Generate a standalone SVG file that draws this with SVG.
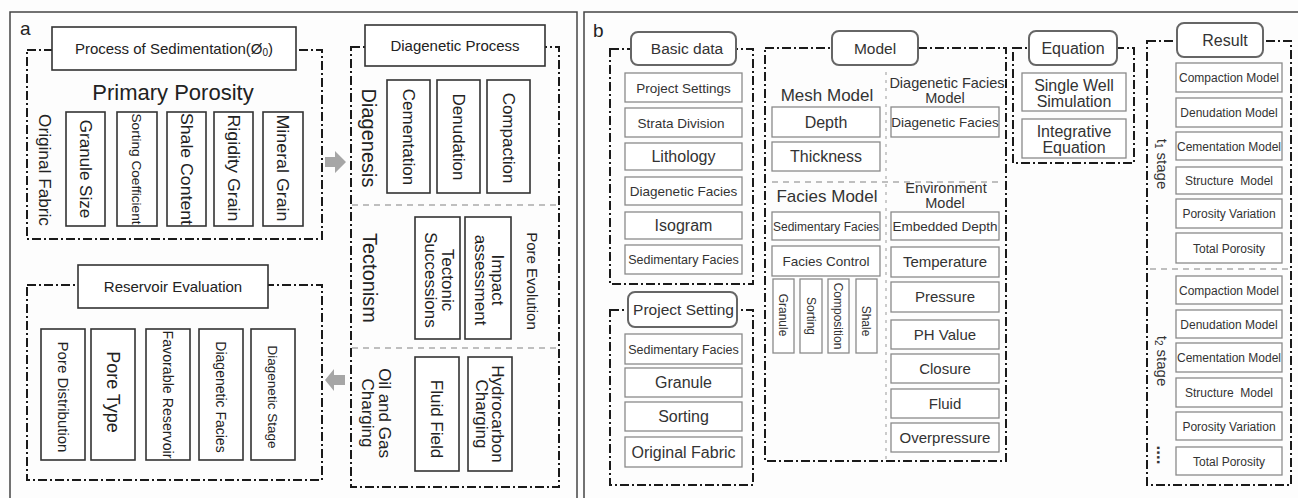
<svg xmlns="http://www.w3.org/2000/svg" width="1298" height="498" viewBox="0 0 1298 498">
  <style>
    text { font-family: "Liberation Sans", Arial, sans-serif; fill: #222; }
    .panel { fill: none; stroke: #444; stroke-width: 1.5; }
    .pa { fill: #fff; stroke: #333; stroke-width: 1.6; }
    .pb { fill: #fff; stroke: #8a8a8a; stroke-width: 1.3; }
    .hd { fill: #fff; stroke: #666; stroke-width: 2; }
    .frame { fill: none; stroke: #1a1a1a; stroke-width: 2; stroke-dasharray: 9 3 2 3; }
    .gdash { fill: none; stroke: #aaa; stroke-width: 1.5; stroke-dasharray: 6 5; }
    .gdot { fill: none; stroke: #bbb; stroke-width: 1.5; stroke-dasharray: 3 5; }
    .arrow { fill: #a6a6a6; }
    .c { text-anchor: middle; }
    .t { fill: #333; }
  </style>

  <rect width="1298" height="498" fill="#fdfdfd"/>

  <!-- outer panels -->
  <g id="panel-a">
    <rect class="panel" x="10" y="12" width="567" height="500"/>
    <text x="20" y="35" font-size="19">a</text>
  </g>
  <g id="panel-b">
    <rect class="panel" x="584" y="12" width="730" height="500"/>
    <text x="593" y="37" font-size="19">b</text>
  </g>

  <!-- ===== panel a ===== -->
  <g id="sedimentation">
    <rect class="frame" x="27" y="50" width="295" height="189"/>
    <rect class="pa" x="52" y="27" width="244" height="43"/>
    <text class="c" x="174" y="54" font-size="15">Process of Sedimentation(Ø<tspan font-size="10" dy="2">0</tspan><tspan dy="-2">)</tspan></text>
    <text class="c" x="173" y="100" font-size="22">Primary Porosity</text>
    <text class="c" transform="translate(45,170) rotate(90)" dy="0.35em" font-size="17" textLength="112" lengthAdjust="spacingAndGlyphs">Original Fabric</text>
    <rect class="pa" x="66" y="112" width="39" height="114"/>
    <text class="c" transform="translate(85.5,169) rotate(90)" dy="0.35em" font-size="17">Granule Size</text>
    <rect class="pa" x="117" y="112" width="40" height="114"/>
    <text class="c" transform="translate(137,169) rotate(90)" dy="0.35em" font-size="13" textLength="111" lengthAdjust="spacingAndGlyphs">Sorting Coefficient</text>
    <rect class="pa" x="167" y="112" width="39" height="114"/>
    <text class="c" transform="translate(186.5,169) rotate(90)" dy="0.35em" font-size="17" textLength="112" lengthAdjust="spacingAndGlyphs">Shale Content</text>
    <rect class="pa" x="214" y="112" width="39" height="114"/>
    <text class="c" transform="translate(233.5,168) rotate(90)" dy="0.35em" font-size="17" textLength="107" lengthAdjust="spacingAndGlyphs">Rigidity Grain</text>
    <rect class="pa" x="263" y="112" width="40" height="114"/>
    <text class="c" transform="translate(283,168) rotate(90)" dy="0.35em" font-size="17" textLength="107" lengthAdjust="spacingAndGlyphs">Mineral Grain</text>
  </g>

  <g id="diagenetic-process">
    <rect class="frame" x="351" y="47" width="208" height="440"/>
    <rect class="pa" x="365" y="25" width="180" height="41"/>
    <text class="c" x="455" y="51" font-size="15">Diagenetic Process</text>
    <line class="gdash" x1="352" y1="205" x2="558" y2="205"/>
    <line class="gdash" x1="352" y1="348" x2="558" y2="348"/>

    <text class="c" transform="translate(369,138) rotate(90)" dy="0.35em" font-size="20">Diagenesis</text>
    <rect class="pa" x="387" y="80" width="43" height="113"/>
    <text class="c" transform="translate(408.5,137) rotate(90)" dy="0.35em" font-size="17">Cementation</text>
    <rect class="pa" x="437" y="80" width="43" height="113"/>
    <text class="c" transform="translate(458.5,137) rotate(90)" dy="0.35em" font-size="17">Denudation</text>
    <rect class="pa" x="487" y="80" width="43" height="113"/>
    <text class="c" transform="translate(508.5,138) rotate(90)" dy="0.35em" font-size="17">Compaction</text>

    <text class="c" transform="translate(370,278) rotate(90)" dy="0.35em" font-size="20">Tectonism</text>
    <rect class="pa" x="415" y="217" width="45" height="122"/>
    <text class="c" transform="translate(439,280) rotate(90)" font-size="17"><tspan x="0" y="-3">Tectonic</tspan><tspan x="0" y="14">Successions</tspan></text>
    <rect class="pa" x="465" y="217" width="46" height="122"/>
    <text class="c" transform="translate(489,280) rotate(90)" font-size="17"><tspan x="0" y="-3">Impact</tspan><tspan x="0" y="14">assessment</tspan></text>
    <text class="c" transform="translate(532,281) rotate(90)" dy="0.35em" font-size="15">Pore Evolution</text>

    <text class="c" transform="translate(376,413) rotate(90)" font-size="17"><tspan x="0" y="-3">Oil and Gas</tspan><tspan x="0" y="14">Charging</tspan></text>
    <rect class="pa" x="415" y="357" width="44" height="114"/>
    <text class="c" transform="translate(437,419) rotate(90)" dy="0.35em" font-size="17">Fluid Field</text>
    <rect class="pa" x="468" y="357" width="44" height="114"/>
    <text class="c" transform="translate(490,414) rotate(90)" font-size="17"><tspan x="0" y="-2">Hydrocarbon</tspan><tspan x="0" y="14">Charging</tspan></text>
  </g>

  <g id="reservoir-evaluation">
    <rect class="frame" x="27" y="285" width="295" height="195"/>
    <rect class="pa" x="78" y="265" width="190" height="43"/>
    <text class="c" x="173" y="292" font-size="15">Reservoir Evaluation</text>
    <rect class="pa" x="41" y="329" width="44" height="131"/>
    <text class="c" transform="translate(63,397) rotate(90)" dy="0.35em" font-size="15">Pore Distribution</text>
    <rect class="pa" x="91" y="329" width="44" height="131"/>
    <text class="c" transform="translate(113,392) rotate(90)" dy="0.35em" font-size="18">Pore Type</text>
    <rect class="pa" x="146" y="329" width="44" height="131"/>
    <text class="c" transform="translate(168,394.5) rotate(90)" dy="0.35em" font-size="14" textLength="128" lengthAdjust="spacingAndGlyphs">Favorable Reservoir</text>
    <rect class="pa" x="199" y="329" width="44" height="131"/>
    <text class="c" transform="translate(221,397) rotate(90)" dy="0.35em" font-size="14">Diagenetic Facies</text>
    <rect class="pa" x="251" y="329" width="44" height="131"/>
    <text class="c" transform="translate(273,397) rotate(90)" dy="0.35em" font-size="13.5">Diagenetic Stage</text>
  </g>

  <!-- flow arrows between the three stages -->
  <g id="connectors">
    <polygon class="arrow" points="325,157 335,157 335,151 346,162 335,173 335,167 325,167"/>
    <polygon class="arrow" points="325,380 334,369 334,375 345,375 345,385 334,385 334,391"/>
  </g>

  <!-- ===== panel b ===== -->
  <g id="basic-data" class="t">
    <rect class="frame" x="610" y="49" width="143" height="235"/>
    <rect class="hd" x="631" y="32" width="105" height="33" rx="7"/>
    <text class="c t" x="687" y="54" font-size="15.5">Basic data</text>
    <rect class="pb" x="625" y="73" width="117" height="29"/>
    <text class="c t" x="683.5" y="92.5" font-size="13.5">Project Settings</text>
    <rect class="pb" x="625" y="108" width="117" height="29"/>
    <text class="c t" x="681" y="127.5" font-size="13.5">Strata Division</text>
    <rect class="pb" x="625" y="143" width="117" height="27"/>
    <text class="c t" x="683.5" y="162" font-size="16">Lithology</text>
    <rect class="pb" x="625" y="177" width="117" height="28"/>
    <text class="c t" x="683.5" y="196" font-size="13.5">Diagenetic Facies</text>
    <rect class="pb" x="625" y="212" width="117" height="27"/>
    <text class="c t" x="683.5" y="231" font-size="16">Isogram</text>
    <rect class="pb" x="625" y="245" width="117" height="29"/>
    <text class="c t" x="683.5" y="264" font-size="12.5">Sedimentary Facies</text>
  </g>

  <g id="project-setting">
    <rect class="frame" x="610" y="310" width="143" height="175"/>
    <rect class="hd" x="628" y="292" width="109" height="35" rx="7"/>
    <text class="c t" x="683.5" y="315" font-size="15.5">Project Setting</text>
    <rect class="pb" x="625" y="334" width="117" height="30"/>
    <text class="c t" x="683.5" y="353.5" font-size="12.5">Sedimentary Facies</text>
    <rect class="pb" x="625" y="368" width="117" height="29"/>
    <text class="c t" x="683.5" y="388" font-size="16">Granule</text>
    <rect class="pb" x="625" y="402" width="117" height="29"/>
    <text class="c t" x="683.5" y="422" font-size="16">Sorting</text>
    <rect class="pb" x="625" y="437" width="117" height="30"/>
    <text class="c t" x="683.5" y="457.5" font-size="16">Original Fabric</text>
  </g>

  <g id="model">
    <rect class="frame" x="765" y="48" width="241" height="413"/>
    <rect class="hd" x="832" y="31" width="86" height="34" rx="7"/>
    <text class="c t" x="875" y="54" font-size="15.5">Model</text>
    <line class="gdot" x1="886" y1="72" x2="886" y2="460"/>
    <line class="gdash" x1="772" y1="182" x2="1000" y2="182"/>

    <text class="c t" x="827" y="101" font-size="17">Mesh Model</text>
    <rect class="pb" x="772" y="107" width="108" height="30"/>
    <text class="c t" x="826" y="127.5" font-size="16">Depth</text>
    <rect class="pb" x="772" y="142" width="108" height="29"/>
    <text class="c t" x="826" y="162" font-size="16">Thickness</text>

    <text class="c t" x="947" y="88" font-size="14.5">Diagenetic Facies</text>
    <text class="c t" x="945" y="103" font-size="14.5">Model</text>
    <rect class="pb" x="891" y="107" width="108" height="30"/>
    <text class="c t" x="945" y="127" font-size="13.5">Diagenetic Facies</text>

    <text class="c t" x="827" y="202" font-size="17">Facies Model</text>
    <rect class="pb" x="772" y="212" width="108" height="28"/>
    <text class="c t" x="826" y="231" font-size="12">Sedimentary Facies</text>
    <rect class="pb" x="772" y="246" width="108" height="30"/>
    <text class="c t" x="826" y="266" font-size="13.5">Facies Control</text>
    <rect class="pb" x="773" y="279" width="21" height="74"/>
    <text class="c t" transform="translate(783.5,315) rotate(90)" dy="0.35em" font-size="12">Granule</text>
    <rect class="pb" x="800" y="279" width="22" height="74"/>
    <text class="c t" transform="translate(811,316) rotate(90)" dy="0.35em" font-size="12">Sorting</text>
    <rect class="pb" x="828" y="279" width="21" height="74"/>
    <text class="c t" transform="translate(838.5,316) rotate(90)" dy="0.35em" font-size="12">Composition</text>
    <rect class="pb" x="856" y="279" width="21" height="74"/>
    <text class="c t" transform="translate(866.5,321) rotate(90)" dy="0.35em" font-size="12">Shale</text>

    <text class="c t" x="946" y="193" font-size="14.5">Environment</text>
    <text class="c t" x="945" y="208" font-size="14.5">Model</text>
    <rect class="pb" x="891" y="212" width="108" height="28"/>
    <text class="c t" x="945" y="231" font-size="13.5">Embedded Depth</text>
    <rect class="pb" x="891" y="247" width="108" height="30"/>
    <text class="c t" x="945" y="267" font-size="15">Temperature</text>
    <rect class="pb" x="891" y="282" width="108" height="30"/>
    <text class="c t" x="945" y="302" font-size="15">Pressure</text>
    <rect class="pb" x="891" y="320" width="108" height="29"/>
    <text class="c t" x="945" y="340" font-size="15">PH Value</text>
    <rect class="pb" x="891" y="354" width="108" height="29"/>
    <text class="c t" x="945" y="374" font-size="15">Closure</text>
    <rect class="pb" x="891" y="389" width="108" height="29"/>
    <text class="c t" x="945" y="409" font-size="15">Fluid</text>
    <rect class="pb" x="891" y="423" width="108" height="29"/>
    <text class="c t" x="945" y="443" font-size="15">Overpressure</text>
  </g>

  <g id="equation">
    <rect class="frame" x="1013" y="48" width="121" height="115"/>
    <rect class="hd" x="1029" y="31" width="88" height="34" rx="7"/>
    <text class="c t" x="1073" y="54" font-size="16">Equation</text>
    <rect class="pb" x="1022" y="73" width="104" height="38"/>
    <text class="c t" x="1074" y="91" font-size="16">Single Well</text>
    <text class="c t" x="1074" y="107" font-size="16">Simulation</text>
    <rect class="pb" x="1022" y="119" width="104" height="39"/>
    <text class="c t" x="1074" y="137" font-size="16">Integrative</text>
    <text class="c t" x="1074" y="153" font-size="16">Equation</text>
  </g>

  <g id="result">
    <rect class="frame" x="1147" y="41" width="144" height="444"/>
    <rect class="hd" x="1177" y="23" width="86" height="34" rx="7"/>
    <text class="c t" x="1225" y="46" font-size="16">Result</text>
    <line class="gdash" x1="1150" y1="269" x2="1290" y2="269"/>

    <text class="c t" transform="translate(1162,164) rotate(90)" dy="0.35em" font-size="15">t<tspan font-size="10" dy="2">1</tspan><tspan dy="-2"> stage</tspan></text>
    <text class="c t" transform="translate(1162,361) rotate(90)" dy="0.35em" font-size="15">t<tspan font-size="10" dy="2">2</tspan><tspan dy="-2"> stage</tspan></text>
    <text class="c t" transform="translate(1157,455) rotate(90)" font-size="17" font-weight="bold">....</text>

    <rect class="pb" x="1176" y="63" width="106" height="29"/>
    <text class="c t" x="1229" y="82" font-size="12">Compaction Model</text>
    <rect class="pb" x="1176" y="98" width="106" height="29"/>
    <text class="c t" x="1229" y="117" font-size="12">Denudation Model</text>
    <rect class="pb" x="1176" y="132" width="106" height="28"/>
    <text class="c t" x="1229" y="150.5" font-size="12">Cementation Model</text>
    <rect class="pb" x="1176" y="167" width="106" height="27"/>
    <text class="c t" x="1229" y="185" font-size="12" xml:space="preserve">Structure  Model</text>
    <rect class="pb" x="1176" y="199" width="106" height="29"/>
    <text class="c t" x="1229" y="218" font-size="12">Porosity Variation</text>
    <rect class="pb" x="1176" y="233" width="106" height="30"/>
    <text class="c t" x="1229" y="252.5" font-size="12">Total Porosity</text>

    <rect class="pb" x="1176" y="276" width="106" height="28"/>
    <text class="c t" x="1229" y="294.5" font-size="12">Compaction Model</text>
    <rect class="pb" x="1176" y="310" width="106" height="28"/>
    <text class="c t" x="1229" y="328.5" font-size="12">Denudation Model</text>
    <rect class="pb" x="1176" y="343" width="106" height="29"/>
    <text class="c t" x="1229" y="362" font-size="12">Cementation Model</text>
    <rect class="pb" x="1176" y="378" width="106" height="29"/>
    <text class="c t" x="1229" y="397" font-size="12" xml:space="preserve">Structure  Model</text>
    <rect class="pb" x="1176" y="412" width="106" height="28"/>
    <text class="c t" x="1229" y="430.5" font-size="12">Porosity Variation</text>
    <rect class="pb" x="1176" y="447" width="106" height="28"/>
    <text class="c t" x="1229" y="465.5" font-size="12">Total Porosity</text>
  </g>
</svg>
